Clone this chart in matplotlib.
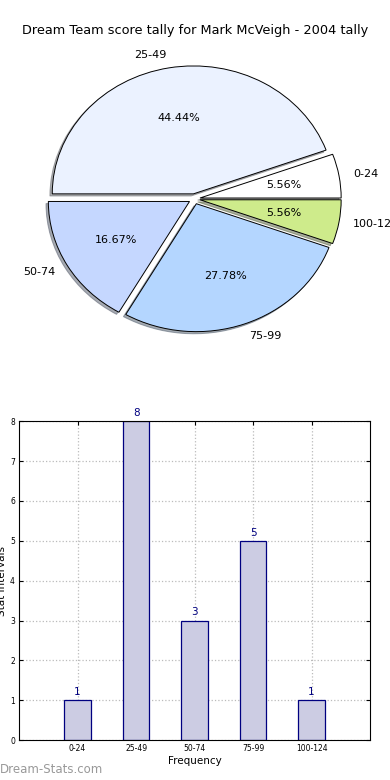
import numpy as np
import matplotlib
matplotlib.use("Agg")
import matplotlib.pyplot as plt

title = "Dream Team score tally for Mark McVeigh - 2004 tally"
intervals = ["0-24", "25-49", "50-74", "75-99", "100-124"]
counts = [1, 8, 3, 5, 1]
pie_colors = ["#ffffff", "#ebf2ff", "#c5d7ff", "#b4d6ff", "#ceeb8b"]

fig = plt.figure(figsize=(3.9, 7.8), dpi=100)

# pie (not forced circular, like the original)
ax1 = fig.add_axes([0.046, 0.54, 0.905, 0.41])
wedges, texts, autotexts = ax1.pie(
    counts, labels=intervals, colors=pie_colors, autopct="%.2f%%",
    explode=[0.04] * len(counts),
    shadow={"ox": -0.012, "oy": -0.012, "shade": 0.6}, startangle=0,
    wedgeprops=dict(edgecolor="black", linewidth=0.7),
    textprops=dict(fontsize=8))
ax1.set_aspect("auto")
ax1.set_xlim(-1.25, 1.25)
ax1.set_ylim(-1.25, 1.25)
fig.text(0.5, 0.961, title, ha="center", va="center", fontsize=9.3)

# bars
ax2 = fig.add_axes([0.049, 0.051, 0.9, 0.409])
x = np.arange(len(counts))
ax2.bar(x, counts, width=0.45, color="#ccccE3", edgecolor="#000080",
        linewidth=0.9, zorder=2)
for xi, c in zip(x, counts):
    ax2.text(xi, c + 0.08, str(c), ha="center", va="bottom",
             color="#000080", fontsize=7.5)
ax2.set_xlim(-1, 5)
ax2.set_ylim(0, 8)
ax2.set_xticks(x)
ax2.set_xticklabels(intervals)
ax2.set_yticks(range(9))
ax2.tick_params(labelsize=5.5, direction="in", top=True, right=True,
                length=3, pad=3)
ax2.grid(True, linestyle=":", color="#bbbbbb", linewidth=0.9, zorder=0)
ax2.set_axisbelow(True)
ax2.set_xlabel("Frequency", fontsize=7.5, labelpad=2)
ax2.set_ylabel("Stat Intervals", fontsize=7.5, labelpad=2)

fig.text(0.0, 0.005, "Dream-Stats.com", color="#999999", fontsize=8.5,
         ha="left", va="bottom")

fig.savefig("out.png", dpi=100)
